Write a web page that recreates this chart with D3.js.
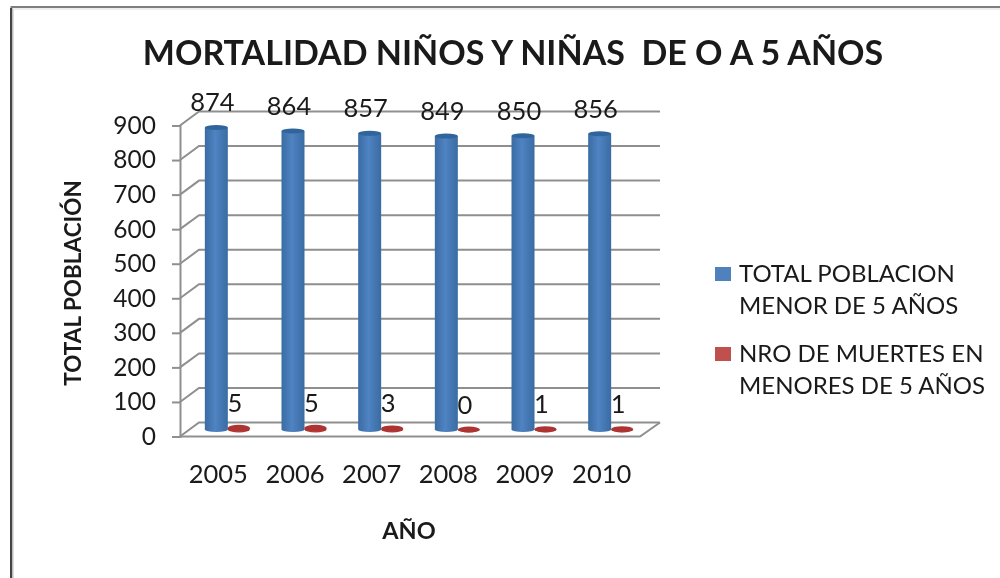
<!DOCTYPE html>
<html>
<head>
<meta charset="utf-8">
<script src="https://cdn.jsdelivr.net/npm/d3@7"></script>
<style>
  html, body { margin: 0; background: #fff; overflow: hidden; }
  svg { filter: blur(0.4px); }
  text { font-family: Lato, "Open Sans", sans-serif; fill: #1a1a1a; }
</style>
</head>
<body>
<div id="chart"></div>
<script>
const years = ["2005", "2006", "2007", "2008", "2009", "2010"];
const poblacion = [874, 864, 857, 849, 850, 856];
const muertes = [5, 5, 3, 0, 1, 1];
const yTicks = [0, 100, 200, 300, 400, 500, 600, 700, 800, 900];
const legendItems = [
  { color: "#4f81bd", lines: ["TOTAL POBLACION", "MENOR DE 5 AÑOS"] },
  { color: "#c0504d", lines: ["NRO DE MUERTES EN", "MENORES DE 5 AÑOS"] }
];

const width = 1000;
const height = 578;
const depthX = 19;
const depthY = 14;
const gridColor = "#8f8f8f";

const svg = d3.select("#chart").append("svg")
  .attr("width", width)
  .attr("height", height);

const defs = svg.append("defs");
function cylinderGradient(id, edge, mid) {
  const g = defs.append("linearGradient").attr("id", id);
  g.append("stop").attr("offset", "0%").attr("stop-color", edge);
  g.append("stop").attr("offset", "45%").attr("stop-color", mid);
  g.append("stop").attr("offset", "100%").attr("stop-color", edge);
}
cylinderGradient("blueBar", "#3a6ca3", "#4f83c2");
cylinderGradient("redBar", "#a5302e", "#bb3f3c");

// frame of the original screenshot
svg.append("path")
  .attr("d", "M11.5,578V7H1000")
  .attr("fill", "none")
  .attr("stroke", "#7f7f7f")
  .attr("stroke-width", 2);
svg.append("path")
  .attr("d", "M11,578V8")
  .attr("stroke", "#444")
  .attr("stroke-width", 2);
svg.append("path")
  .attr("d", "M13.5,578V9H1000")
  .attr("fill", "none")
  .attr("stroke", "#ddd")
  .attr("stroke-width", 1);

const y = d3.scaleLinear().domain([0, 900]).range([436.5, 125.5]);
const x = d3.scaleBand().domain(years).range([180, 640]);

// back wall grid and side wall
const grid = svg.append("g");
grid.selectAll("path")
  .data(yTicks)
  .enter()
  .append("path")
  .attr("d", d => `M180,${y(d)}L${180 + depthX},${y(d) - depthY}H${640 + depthX + 1}`)
  .attr("fill", "none")
  .attr("stroke", gridColor)
  .attr("stroke-width", 2);

// floor front and right edges
grid.append("path")
  .attr("d", `M180,${y(0)}H640L${640 + depthX + 1},${y(0) - depthY}`)
  .attr("fill", "none")
  .attr("stroke", gridColor)
  .attr("stroke-width", 2);

const yAxis = d3.axisLeft(y).tickValues(yTicks).tickSize(8).tickPadding(16);
const yAxisG = svg.append("g").attr("transform", "translate(180,0)").call(yAxis);
yAxisG.selectAll("path, line").attr("stroke", gridColor).attr("stroke-width", 2);
yAxisG.selectAll("text")
  .attr("font-size", 24.5)
  .style("font-family", "Lato, 'Open Sans', sans-serif");

const xAxis = d3.axisBottom(x).tickSize(0).tickPadding(28);
const xAxisG = svg.append("g").attr("transform", `translate(0,${y(0)})`).call(xAxis);
xAxisG.select("path").remove();
xAxisG.selectAll("text")
  .attr("font-size", 25.5)
  .style("font-family", "Lato, 'Open Sans', sans-serif");

// cylinders sit half way into the depth of the floor
const midX = depthX / 2;
const midY = depthY / 2;

function cylinder(values, dx, rx, ry, fill, topFill) {
  const g = svg.append("g");
  const px = (d, i) => x(years[i]) + x.bandwidth() / 2 + midX + dx;
  g.selectAll("path")
    .data(values)
    .enter()
    .append("path")
    .attr("d", (d, i) => {
      const cx = px(d, i);
      const top = y(d) - midY;
      const base = y(0) - midY;
      return `M${cx - rx},${top}V${base}A${rx},${ry} 0 0 0 ${cx + rx},${base}V${top}Z`;
    })
    .attr("fill", fill);
  g.selectAll("ellipse")
    .data(values)
    .enter()
    .append("ellipse")
    .attr("cx", px)
    .attr("cy", d => y(d) - midY)
    .attr("rx", rx)
    .attr("ry", ry)
    .attr("fill", topFill);
  g.selectAll("text")
    .data(values)
    .enter()
    .append("text")
    .attr("x", (d, i) => px(d, i) - 4)
    .attr("y", d => y(d) - midY - 16)
    .attr("text-anchor", "middle")
    .attr("font-size", 25.5)
    .text(d => d);
}

cylinder(poblacion, -11.5, 11.5, 2.5, "url(#blueBar)", "#2f659c");
cylinder(muertes, 11, 11, 3, "url(#redBar)", "#ad3432");

svg.append("text")
  .attr("x", 513)
  .attr("y", 65)
  .attr("text-anchor", "middle")
  .attr("font-size", 34)
  .attr("font-weight", 700)
  .style("white-space", "pre")
  .text("MORTALIDAD NIÑOS Y NIÑAS  DE O A 5 AÑOS");

svg.append("text")
  .attr("transform", "translate(81,283) rotate(-90)")
  .attr("text-anchor", "middle")
  .attr("font-size", 22.5)
  .attr("font-weight", 700)
  .text("TOTAL POBLACIÓN");

svg.append("text")
  .attr("x", 409)
  .attr("y", 539)
  .attr("text-anchor", "middle")
  .attr("font-size", 23.5)
  .attr("font-weight", 700)
  .text("AÑO");

const legend = svg.append("g");
const legendY = d3.scalePoint().domain([0, 1]).range([267, 347]);
const item = legend.selectAll("g")
  .data(legendItems)
  .enter()
  .append("g")
  .attr("transform", (d, i) => `translate(715,${legendY(i)})`);
item.append("rect")
  .attr("width", 16)
  .attr("height", 14)
  .attr("fill", d => d.color);
item.selectAll("text")
  .data(d => d.lines)
  .enter()
  .append("text")
  .attr("x", 24)
  .attr("y", (d, i) => 15 + i * 31.5)
  .attr("font-size", 24)
  .text(d => d);
</script>
</body>
</html>
